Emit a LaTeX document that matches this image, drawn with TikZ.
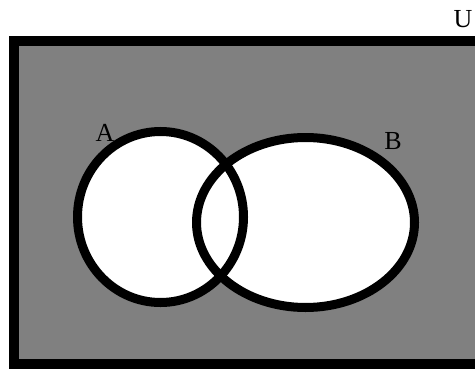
\documentclass[tikz,border=0pt]{standalone}
\usepackage{fontspec}
\setmainfont{Liberation Serif}
\usetikzlibrary{shapes.geometric}
\definecolor{venngray}{HTML}{808080}
\tikzset{
  setshape/.style={ellipse,inner sep=0pt,line width=4.5pt},
  setlabel/.style={font=\fontsize{13}{15}\selectfont,inner sep=0pt}
}
\begin{document}
\begin{tikzpicture}[x=0.5pt,y=-0.5pt]
  \useasboundingbox (0,0) rectangle (475,369);
  \clip (0,0) rectangle (475,369);
  % universe
  \draw[line width=5pt,fill=venngray] (14,41) rectangle (490,364);
  \node[setlabel] (labU) at (463,19) {U};
  % the two sets: fill first, outlines on top
  \node[setshape,fill=white,minimum width=83pt,minimum height=85.5pt] (setA) at (160.5,217) {};
  \node[setshape,fill=white,minimum width=109pt,minimum height=85pt] (setB) at (305.5,222.5) {};
  \node[setshape,draw,minimum width=83pt,minimum height=85.5pt] at (setA.center) {};
  \node[setshape,draw,minimum width=109pt,minimum height=85pt] at (setB.center) {};
  \node[setlabel] (labA) at (105,133) {A};
  \node[setlabel] (labB) at (393,141) {B};
\end{tikzpicture}
\end{document}
